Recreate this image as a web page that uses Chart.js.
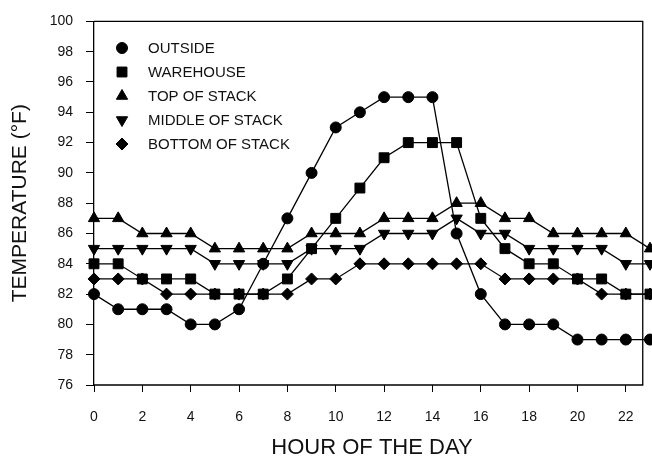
<!DOCTYPE html>
<html>
<head>
<meta charset="utf-8">
<script src="https://cdn.jsdelivr.net/npm/chart.js@4/dist/chart.umd.min.js"></script>
<style>
  html, body { margin: 0; padding: 0; background: #fff; }
  #tempChart { display: block; }
</style>
</head>
<body>
<canvas id="tempChart" width="652" height="459"></canvas>
<script>
"use strict"

// hour of the day, 0..23
const hours = [0, 1, 2, 3, 4, 5, 6, 7, 8, 9, 10, 11, 12, 13, 14, 15, 16, 17, 18, 19, 20, 21, 22, 23]

const outside  = [82, 81, 81, 81, 80, 80, 81, 84, 87, 90, 93, 94, 95, 95, 95, 86, 82, 80, 80, 80, 79, 79, 79, 79]
const warehouse = [84, 84, 83, 83, 83, 82, 82, 82, 83, 85, 87, 89, 91, 92, 92, 92, 87, 85, 84, 84, 83, 83, 82, 82]
const topStack  = [87, 87, 86, 86, 86, 85, 85, 85, 85, 86, 86, 86, 87, 87, 87, 88, 88, 87, 87, 86, 86, 86, 86, 85]
const midStack  = [85, 85, 85, 85, 85, 84, 84, 84, 84, 85, 85, 85, 86, 86, 86, 87, 86, 86, 85, 85, 85, 85, 84, 84]
const botStack  = [83, 83, 83, 82, 82, 82, 82, 82, 82, 83, 83, 84, 84, 84, 84, 84, 84, 83, 83, 83, 83, 82, 82, 82]

const seriesNames = ['OUTSIDE', 'WAREHOUSE', 'TOP OF STACK', 'MIDDLE OF STACK', 'BOTTOM OF STACK']

// the box of the original plot closes a little before hour 23
const frameEnd = 22.7

const FONT = '"Liberation Sans", Arial, Helvetica, sans-serif'

let makeSet = function(label, values, style, radius, rotation) {
    return {
        label: label,
        data: values.map((v, i) => ({ x: hours[i], y: v })),
        borderColor: '#000',
        backgroundColor: '#000',
        borderWidth: 1.3,
        pointStyle: style,
        pointRadius: radius,
        pointRotation: rotation || 0,
        pointBorderWidth: 1,
        pointBackgroundColor: '#000',
        pointBorderColor: '#000',
        tension: 0,
        clip: false
    }
}

// box around the plot + legend drawn inside plot area
const framePlugin = {
    id: 'frameAndLegend',
    afterDraw(chart) {
        const { ctx, chartArea } = chart
        let right = chart.scales.x.getPixelForValue(frameEnd)
        ctx.save()
        ctx.strokeStyle = '#000'
        ctx.lineWidth = 1.3
        ctx.beginPath()
        ctx.moveTo(chartArea.left, chartArea.top)
        ctx.lineTo(right, chartArea.top)
        ctx.lineTo(right, chartArea.bottom)
        ctx.lineTo(chartArea.left, chartArea.bottom)
        ctx.stroke()

        let x0 = 122, y0 = 48, step = 24
        ctx.font = '15px ' + FONT
        ctx.textBaseline = 'middle'
        ctx.textAlign = 'left'
        chart.data.datasets.forEach((d, i) => {
            let y = y0 + i * step
            ctx.fillStyle = '#000'
            ctx.strokeStyle = '#000'
            ctx.lineWidth = 1
            Chart.helpers.drawPoint(ctx, {
                pointStyle: d.pointStyle,
                radius: d.pointRadius,
                rotation: d.pointRotation,
                borderWidth: 1
            }, x0, y)
            ctx.fillStyle = '#111'
            ctx.fillText(d.label, 148, y + 1)
        })
        ctx.restore()
    }
}

let ctx = document.getElementById('tempChart').getContext('2d')
let tempChart = new Chart(ctx, {
    type: 'line',
    data: {
        datasets: [
            makeSet(seriesNames[0], outside, 'circle', 5.5),
            makeSet(seriesNames[1], warehouse, 'rect', 7),
            makeSet(seriesNames[2], topStack, 'triangle', 6.5),
            makeSet(seriesNames[3], midStack, 'triangle', 6.5, 180),
            makeSet(seriesNames[4], botStack, 'rectRot', 6)
        ]
    },
    options: {
        responsive: false,
        animation: false,
        devicePixelRatio: 1,
        layout: { autoPadding: false, padding: { left: 0, top: 20, right: 2, bottom: 0 } },
        plugins: {
            legend: { display: false },
            tooltip: { enabled: false }
        },
        scales: {
            x: {
                type: 'linear',
                min: 0,
                max: 23,
                afterFit: s => { s.height = 74 },
                ticks: {
                    stepSize: 2,
                    includeBounds: false,
                    color: '#111',
                    font: { family: FONT, size: 14 },
                    padding: 17,
                    maxRotation: 0
                },
                grid: {
                    display: true,
                    drawOnChartArea: false,
                    drawTicks: true,
                    tickLength: 7,
                    color: '#000'
                },
                border: { display: false },
                title: {
                    display: true,
                    text: 'HOUR OF THE DAY',
                    color: '#111',
                    font: { family: FONT, size: 22, lineHeight: 1 },
                    padding: { top: 0, bottom: 0 }
                }
            },
            y: {
                min: 76,
                max: 100,
                afterFit: s => { s.width = 94 },
                ticks: {
                    stepSize: 2,
                    color: '#111',
                    font: { family: FONT, size: 14 },
                    padding: 13
                },
                grid: {
                    display: true,
                    drawOnChartArea: false,
                    drawTicks: true,
                    tickLength: 8,
                    color: '#000'
                },
                border: { display: true, color: '#000', width: 1.3 },
                title: {
                    display: true,
                    text: 'TEMPERATURE (°F)',
                    color: '#111',
                    font: { family: FONT, size: 21, lineHeight: 1 },
                    padding: { top: 10, bottom: 0 }
                }
            }
        }
    },
    plugins: [framePlugin]
})
</script>
</body>
</html>
